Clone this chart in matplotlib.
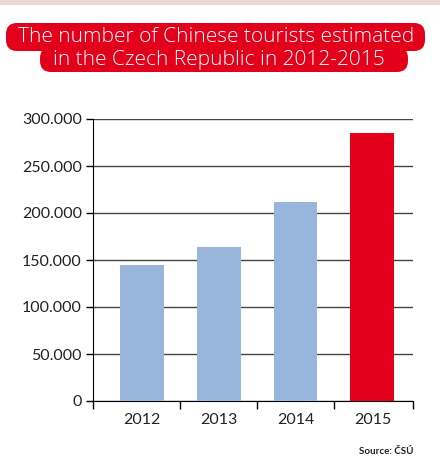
import matplotlib
matplotlib.use("Agg")
import matplotlib.pyplot as plt
from matplotlib.patches import FancyBboxPatch, Rectangle
from matplotlib.ticker import FixedLocator, FuncFormatter

years = ["2012", "2013", "2014", "2015"]
tourists = [145000, 164000, 212000, 285000]
bar_colors = ["#98b5db", "#98b5db", "#98b5db", "#e2001a"]
yticks = [0, 50000, 100000, 150000, 200000, 250000, 300000]
title_lines = ["The number of Chinese tourists estimated", "in the Czech Republic in 2012-2015"]
source = "Source: ČSÚ"

plt.rcParams['font.family'] = ['Lato', 'DejaVu Sans']

fig = plt.figure(figsize=(4.4, 4.75), dpi=100)
fig.patch.set_facecolor("white")

# top decorative strip
fig.patches.append(Rectangle((0, 1 - 5/475), 1, 5/475, transform=fig.transFigure,
                             facecolor="#ebd6d8", edgecolor="none"))

red = "#e2001a"
W, H = 440, 475
def fbox(x0, y0, x1, y1):
    p = FancyBboxPatch((x0/W, 1 - y1/H), (x1-x0)/W, (y1-y0)/H,
                       boxstyle="round,pad=0,rounding_size=0.025",
                       transform=fig.transFigure, facecolor=red, edgecolor="none",
                       mutation_aspect=W/H)
    fig.patches.append(p)
fbox(6, 23, 425, 51)
fbox(40, 47, 408, 72)
fig.text(216/W, 1 - 37/H, title_lines[0], ha="center", va="center", color="white",
         fontsize=15, family=["Open Sans", "DejaVu Sans"], fontweight="light")
fig.text(219/W, 1 - 60/H, title_lines[1], ha="center", va="center", color="white",
         fontsize=15, family=["Open Sans", "DejaVu Sans"], fontweight="light")

ax = fig.add_axes([93/W, 1 - 401/H, 320/W, 282/H])
x = list(range(len(years)))
ax.bar(x, tourists, width=0.57, color=bar_colors, zorder=3)
ax.set_xlim(-0.64, 3.53)
ax.set_ylim(0, 300000)
ax.yaxis.set_major_locator(FixedLocator(yticks))
ax.yaxis.set_major_formatter(FuncFormatter(lambda v, p: "0" if v == 0 else f"{int(v):,}".replace(",", ".")))
ax.grid(axis="y", color="#444444", linewidth=1.0, zorder=1)
ax.set_axisbelow(True)
for s in ["top", "right"]:
    ax.spines[s].set_visible(False)
ax.spines["left"].set_color("black")
ax.spines["bottom"].set_color("black")
ax.set_xticks(x)
ax.set_xticklabels(years)
ax.set_xticks([-0.64, 0.5, 1.5, 2.5, 3.53], minor=True)
ax.tick_params(axis="x", which="major", length=0, pad=9, labelsize=11.5, labelcolor="#222222")
ax.tick_params(axis="x", which="minor", length=6, width=1, direction="out", color="black")
ax.tick_params(axis="y", length=5, width=1, direction="out", labelsize=11.5, pad=3,
               color="black", labelcolor="#222222")

fig.text(413/W, 1 - 452/H, source, ha="right", va="center", fontsize=7, fontweight="bold",
         color="#222222")

fig.savefig("out.png", dpi=100)
